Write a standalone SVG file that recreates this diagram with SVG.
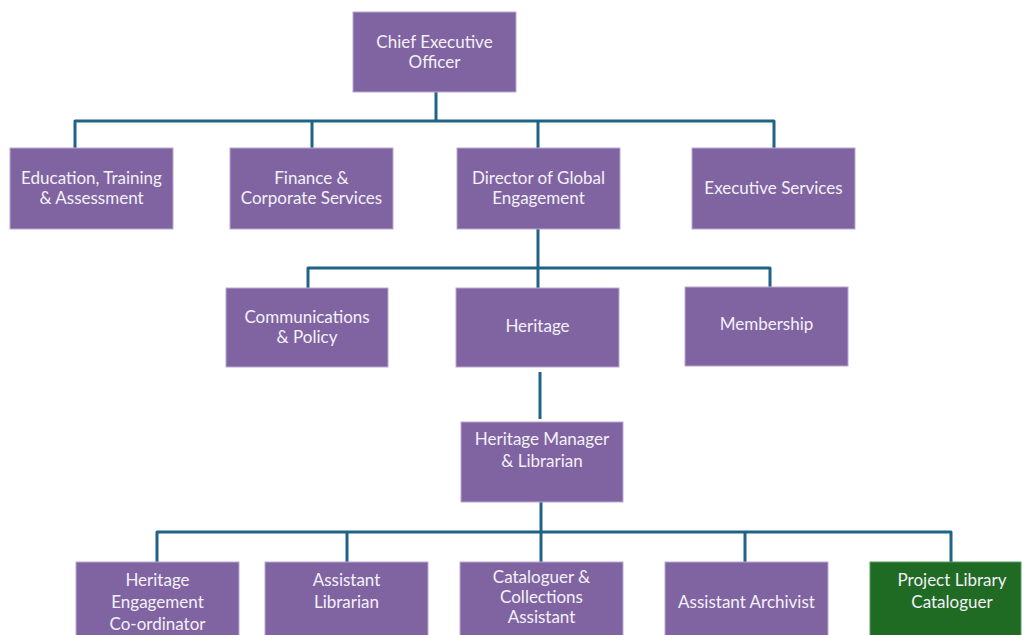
<svg xmlns="http://www.w3.org/2000/svg" width="1022" height="635" viewBox="0 0 1022 635">
<style>
.box{fill:#8064A2;stroke:#B9A8D0;stroke-width:1}
.green{fill:#1F6B24;stroke:#5E9A62;stroke-width:1}
.t{font-family:Lato,"Open Sans","Liberation Sans",sans-serif;font-size:17px;fill:#F4F1F8;text-anchor:middle}
.c{fill:none;stroke:#1F6385;stroke-width:3;stroke-linejoin:round}
</style>
<rect width="1022" height="635" fill="#FFFFFF"/>
<g id="connectors">
<path class="c" d="M436 92 V121"/>
<path class="c" d="M75 148 V121 H774 V148"/>
<path class="c" d="M312 121 V148"/>
<path class="c" d="M538 121 V148"/>
<path class="c" d="M538 229 V288"/>
<path class="c" d="M308 288 V268 H770 V287"/>
<path class="c" d="M540 372 V419"/>
<path class="c" d="M541 502 V562"/>
<path class="c" d="M157 562 V532 H951 V562"/>
<path class="c" d="M347 532 V562"/>
<path class="c" d="M745 532 V562"/>
</g>
<g id="ceo"><rect class="box" x="353" y="12" width="163" height="80"/><text class="t" x="434.5" y="48">Chief Executive</text><text class="t" x="434.5" y="68">Officer</text></g>
<g id="education"><rect class="box" x="10" y="148" width="163" height="81"/><text class="t" x="91.5" y="184">Education, Training</text><text class="t" x="91.5" y="204">&amp; Assessment</text></g>
<g id="finance"><rect class="box" x="230" y="148" width="163" height="81"/><text class="t" x="311.5" y="184">Finance &amp;</text><text class="t" x="311.5" y="204">Corporate Services</text></g>
<g id="director"><rect class="box" x="457" y="148" width="163" height="81"/><text class="t" x="538.5" y="184">Director of Global</text><text class="t" x="538.5" y="204">Engagement</text></g>
<g id="executive"><rect class="box" x="692" y="148" width="163" height="81"/><text class="t" x="773.5" y="194">Executive Services</text></g>
<g id="communications"><rect class="box" x="226" y="288" width="162" height="79"/><text class="t" x="307" y="323">Communications</text><text class="t" x="307" y="343">&amp; Policy</text></g>
<g id="heritage"><rect class="box" x="456" y="288" width="163" height="79"/><text class="t" x="537.5" y="332">Heritage</text></g>
<g id="membership"><rect class="box" x="685" y="287" width="163" height="79"/><text class="t" x="766.5" y="330">Membership</text></g>
<g id="heritage-manager"><rect class="box" x="461" y="422" width="162" height="80"/><text class="t" x="542" y="445">Heritage Manager</text><text class="t" x="542" y="467">&amp; Librarian</text></g>
<g id="engagement-coordinator"><rect class="box" x="76" y="562" width="163" height="80"/><text class="t" x="157.5" y="586">Heritage</text><text class="t" x="157.5" y="608">Engagement</text><text class="t" x="157.5" y="630">Co-ordinator</text></g>
<g id="assistant-librarian"><rect class="box" x="265" y="562" width="163" height="80"/><text class="t" x="346.5" y="586">Assistant</text><text class="t" x="346.5" y="608">Librarian</text></g>
<g id="cataloguer"><rect class="box" x="460" y="562" width="163" height="80"/><text class="t" x="541.5" y="583">Cataloguer &amp;</text><text class="t" x="541.5" y="603">Collections</text><text class="t" x="541.5" y="623">Assistant</text></g>
<g id="assistant-archivist"><rect class="box" x="665" y="562" width="163" height="80"/><text class="t" x="746.5" y="608">Assistant Archivist</text></g>
<g id="project-library"><rect class="green" x="870" y="562" width="151" height="80"/><text class="t" x="952" y="586">Project Library</text><text class="t" x="952" y="608">Cataloguer</text></g>
</svg>
